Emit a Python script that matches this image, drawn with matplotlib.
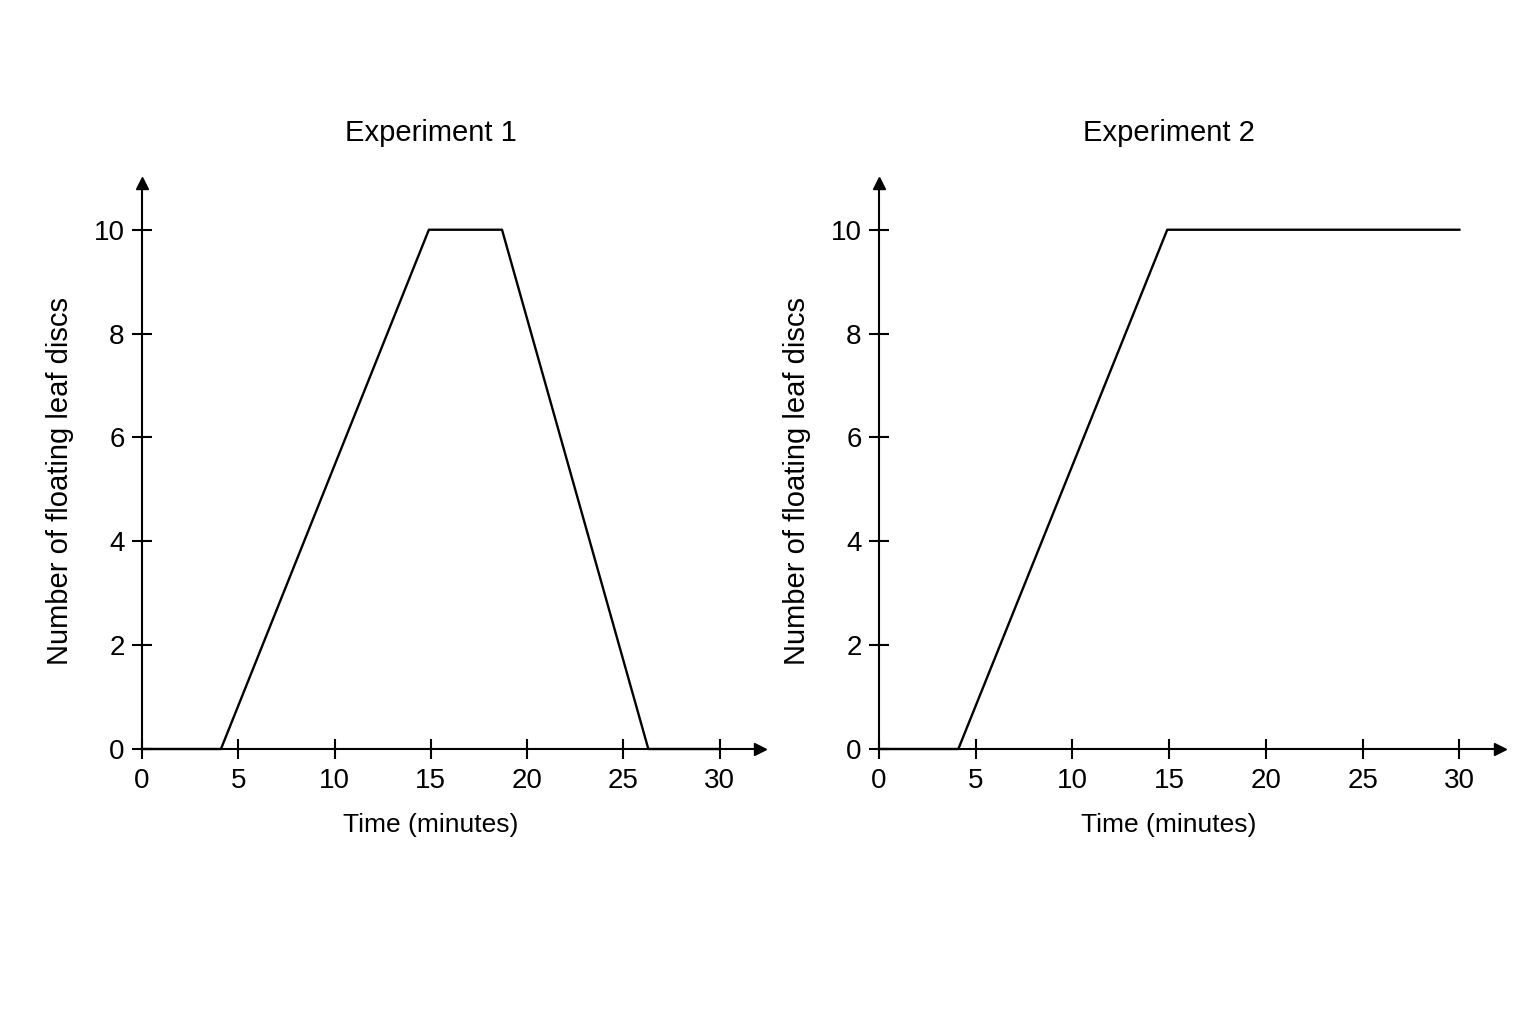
import matplotlib.pyplot as plt

plt.rcParams['font.family'] = ['Liberation Sans Narrow', 'Liberation Sans', 'DejaVu Sans']

# readings from the two graphs
time_exp1 = [0, 4.1, 14.9, 18.7, 26.3, 30]
discs_exp1 = [0, 0, 10, 10, 0, 0]
time_exp2 = [0, 4.1, 14.9, 30]
discs_exp2 = [0, 0, 10, 10]

titles = ['Experiment 1', 'Experiment 2']
x_ticks = [0, 5, 10, 15, 20, 25, 30]
y_ticks = [0, 2, 4, 6, 8, 10]

fig = plt.figure(figsize=(15.36, 10.24), dpi=100)
ax1 = fig.add_axes([142 / 1536, 275 / 1024, 618 / 1536, 566 / 1024])
ax2 = fig.add_axes([879 / 1536, 275 / 1024, 621 / 1536, 566 / 1024])

x_max, y_max = 32.1, 10.9
for ax, t, n, title in [(ax1, time_exp1, discs_exp1, titles[0]),
                        (ax2, time_exp2, discs_exp2, titles[1])]:
    ax.plot(t, n, color='black', lw=1.7, clip_on=False, zorder=3)
    ax.set_xlim(0, x_max)
    ax.set_ylim(0, y_max)
    ax.set_xticks(x_ticks)
    ax.set_yticks(y_ticks)
    ax.spines[['top', 'right']].set_visible(False)
    for s in ['left', 'bottom']:
        ax.spines[s].set_linewidth(1.5)
    ax.tick_params(direction='inout', length=15, width=1.5, labelsize=20)
    ax.tick_params(axis='x', pad=6)
    ax.tick_params(axis='y', pad=5)
    # arrow heads on the axes
    ax.plot(1, 0, '>', color='black', ms=9, transform=ax.get_yaxis_transform(), clip_on=False)
    ax.plot(0, 1, '^', color='black', ms=9, transform=ax.get_xaxis_transform(), clip_on=False)
    # labels centred on the 0-30 / 0-10 range, not on the arrow-extended axes
    mid_x = 15 / x_max
    ax.set_xlabel('Time (minutes)', fontsize=19, labelpad=14)
    ax.xaxis.label.set_x(mid_x)
    ax.set_ylabel('Number of floating leaf discs', fontsize=21, labelpad=14)
    ax.yaxis.label.set_y(0.4735)
    ax.set_title(title, fontsize=21, pad=30)
    ax.title.set_x(mid_x)

fig.savefig('out.png', dpi=100, facecolor='white')
